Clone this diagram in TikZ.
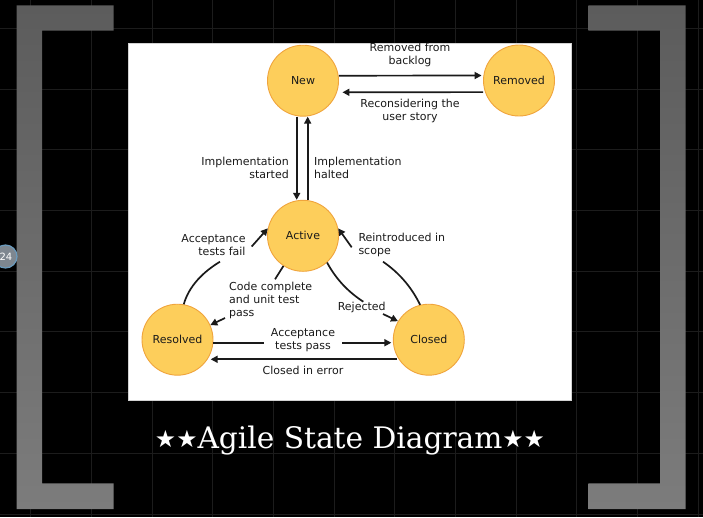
\documentclass[tikz,border=0pt]{standalone}
\usepackage{fontspec}
\setmainfont{DejaVu Sans}
\newfontfamily\titlefont{DejaVu Serif}
\usetikzlibrary{arrows.meta}
\definecolor{stfill}{HTML}{FDCE5B}
\definecolor{stline}{HTML}{F0A43C}
\definecolor{ink}{HTML}{1A1A1A}
\definecolor{gridc}{HTML}{1C1C1C}
\definecolor{brtop}{HTML}{5C5C5C}
\definecolor{brbot}{HTML}{7C7C7C}
\definecolor{badgefill}{HTML}{7E8790}
\definecolor{badgeline}{HTML}{6A9BBE}
\tikzset{
  state/.style={circle, draw=stline, fill=stfill, line width=0.9pt, minimum size=71pt, inner sep=0pt, text=ink, font=\fontsize{11}{13}\selectfont},
  lbl/.style={inner sep=0pt, text=ink, font=\fontsize{11}{13}\selectfont},
  arr/.style={draw=ink, line width=1.7pt, -{Triangle[length=7pt,width=7pt]}},
  ln/.style={draw=ink, line width=1.7pt},
  bracket/.style={top color=brtop, bottom color=brbot, draw=none},
}
\begin{document}
\begin{tikzpicture}[x=1pt,y=-1pt]
\useasboundingbox (0,0) rectangle (703,517);
\fill[black] (0,0) rectangle (703,517);
% faint grid
\foreach \gx in {30.6,91.3,152,212.7,273.4,334,394.7,455.4,516,576.8,637.5,698}
  \draw[gridc, line width=0.8pt] (\gx,0) -- (\gx,517);
\foreach \gy in {28.3,89,149.7,210.4,271,331.8,392.5,453.2,513.9}
  \draw[gridc, line width=0.8pt] (0,\gy) -- (703,\gy);
% brackets
\path[bracket] (16.5,5.3) -- (113.5,5.3) -- (113.5,30.7) -- (42,30.7) -- (42,483.3) -- (113.5,483.3) -- (113.5,509) -- (16.5,509) -- cycle;
\path[bracket] (685.7,5.3) -- (588.3,5.3) -- (588.3,30.7) -- (660,30.7) -- (660,483.3) -- (588.3,483.3) -- (588.3,509) -- (685.7,509) -- cycle;
% page badge
\node[circle, fill=badgefill, draw=badgeline, line width=1.2pt, minimum size=23pt, inner sep=0pt, text=white, font=\fontsize{10}{12}\selectfont] (badge) at (5.5,256.5) {\hspace*{1pt}24};
% panel
\path[fill=white, draw=gray!35, line width=0.8pt] (128,43) rectangle (571,400);
% states
\node[state] (new) at (303,80.7) {New};
\node[state] (rem) at (519,80.5) {Removed};
\node[state] (act) at (303,235.8) {Active};
\node[state] (res) at (177.5,339.7) {Resolved};
\node[state] (clo) at (428.8,339.7) {Closed};
% new <-> removed
\draw[arr] ([yshift=5pt]new.east) -- ([yshift=5pt,xshift=-1.5pt]rem.west);
\draw[arr] ([yshift=-11.6pt]rem.west) -- ([yshift=-11.6pt,xshift=3.5pt]new.east);
\node[lbl, align=center] (l1) at (410,55) {Removed from\\backlog};
\node[lbl, align=center] (l2) at (410,111) {Reconsidering the\\user story};
% new <-> active
\draw[arr] ([xshift=-6.3pt]new.south) -- ([xshift=-6.3pt]act.north);
\draw[arr] ([xshift=4.7pt]act.north) -- ([xshift=4.7pt]new.south);
\node[lbl, align=right, anchor=east] (l3) at (289,168.3) {Implementation\\started};
\node[lbl, align=left, anchor=west] (l4) at (314,168.3) {Implementation\\halted};
% resolved -> active (acceptance tests fail)
\coordinate (af1) at (220,261.7);
\coordinate (af2) at (251.7,246.5);
\draw[ln] (res.80) .. controls (189,286) and (203,272) .. (af1);
\draw[arr] (af2) -- (act.168);
\node[lbl, align=right, anchor=east] (l5) at (245.7,245.3) {Acceptance\\tests fail};
% active -> resolved (code complete)
\coordinate (cc1) at (275,279.3);
\coordinate (cc2) at (225,318);
\draw[ln] (act.-123) -- (cc1);
\draw[arr] (cc2) -- (res.24);
\node[lbl, align=left, anchor=west] (l6) at (229,300) {Code complete\\and unit test\\pass};
% active -> closed (rejected)
\coordinate (rj1) at (363.3,301.7);
\coordinate (rj2) at (383,314);
\draw[ln] (act.-48) .. controls (337,281) and (350,293) .. (rj1);
\draw[arr] (rj2) -- (clo.149);
\node[lbl] (l7) at (361.7,307.3) {Rejected};
% closed -> active (reintroduced)
\coordinate (ri1) at (383,261.7);
\coordinate (ri2) at (351.7,247.3);
\draw[ln] (clo.104) .. controls (411,286) and (398,272) .. (ri1);
\draw[arr] (ri2) -- (act.12);
\node[lbl, align=left, anchor=west] (l8) at (358.3,245.3) {Reintroduced in\\scope};
% resolved <-> closed
\draw[arr] ([yshift=-3pt]res.east) -- ([yshift=-3pt,xshift=-1.5pt]clo.west);
\node[lbl, align=center, fill=white, inner xsep=7pt, inner ysep=1pt] (l9) at (303,340.5) {Acceptance\\tests pass};
\draw[arr] ([xshift=-2pt]clo.-147) -- ([xshift=3pt]res.-33);
\node[lbl] (l10) at (303,370) {Closed in error};
% title
\node[text=white, inner sep=0pt] (title) at (350,441) {\resizebox{390pt}{!}{\fontsize{28}{32}\selectfont\raisebox{1pt}{\fontspec{DejaVu Sans}\scalebox{0.8}{★★}}\titlefont Agile State Diagram\raisebox{1pt}{\fontspec{DejaVu Sans}\scalebox{0.8}{★★}}}};
\end{tikzpicture}
\end{document}
